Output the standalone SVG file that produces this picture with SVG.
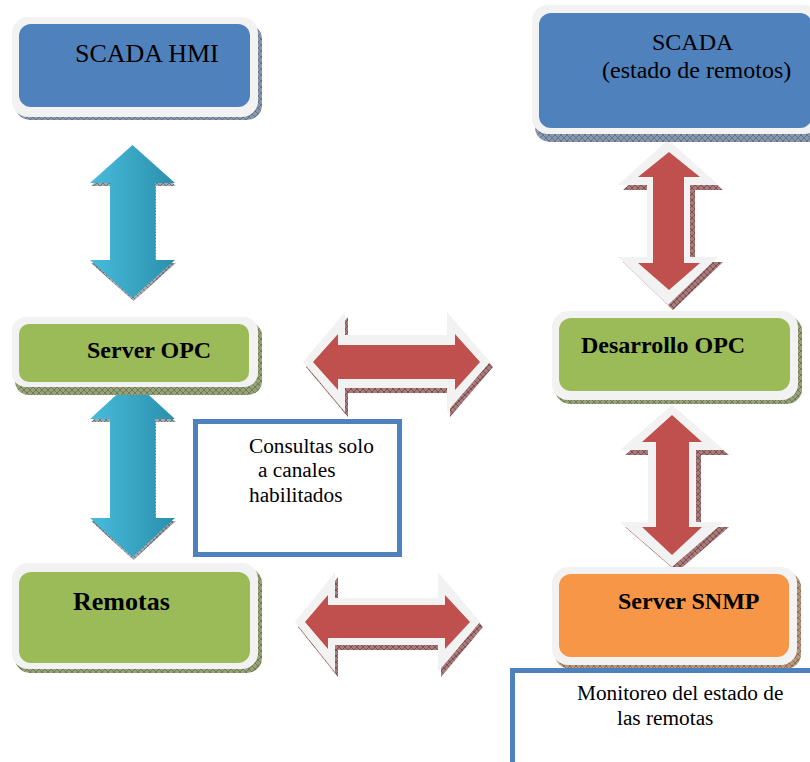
<svg xmlns="http://www.w3.org/2000/svg" width="810" height="762" viewBox="0 0 810 762">
<style>
.frame{fill:#f2f2f2}
.blue{fill:#4f81bd}
.green{fill:#9bbb59}
.orange{fill:#f79646}
.lbl{font-family:"Liberation Serif","Times New Roman",serif;fill:#000}
.b{font-weight:bold;font-size:24px}
.note{font-size:21.3px}
.nbox{fill:#fff;stroke:#4f81bd;stroke-width:5}
.rg{fill:#f2f2f2}
.rd{fill:#c0504d}
.ba{fill:url(#bgrad)}
</style>
<defs>
<pattern id="hb" width="6" height="6" patternUnits="userSpaceOnUse"><rect width="6" height="6" fill="#8a98ae"/><path d="M0 0L6 6M6 0L0 6" stroke="#56637c" stroke-width="0.7"/></pattern>
<pattern id="hg" width="6" height="6" patternUnits="userSpaceOnUse"><rect width="6" height="6" fill="#98a27a"/><path d="M0 0L6 6M6 0L0 6" stroke="#5e6a44" stroke-width="0.7"/></pattern>
<pattern id="ho" width="6" height="6" patternUnits="userSpaceOnUse"><rect width="6" height="6" fill="#b8987c"/><path d="M0 0L6 6M6 0L0 6" stroke="#7e5e44" stroke-width="0.7"/></pattern>
<pattern id="hr" width="6" height="6" patternUnits="userSpaceOnUse"><rect width="6" height="6" fill="#a87c7c"/><path d="M0 0L6 6M6 0L0 6" stroke="#6e3e3e" stroke-width="0.7"/></pattern>
<pattern id="hk" width="6" height="6" patternUnits="userSpaceOnUse"><rect width="6" height="6" fill="#a4a8ac"/><path d="M0 0L6 6M6 0L0 6" stroke="#5a5e62" stroke-width="0.7"/></pattern>
<linearGradient id="bgrad" x1="0" y1="0" x2="1" y2="0"><stop offset="0" stop-color="#48bcdc"/><stop offset="1" stop-color="#2a8fac"/></linearGradient>
</defs>

<g id="connectors">
  <g id="arrow-hmi-opc">
    <polygon fill="url(#hk)" transform="translate(1,3)" points="132.5,145 175,183 155,183 155,260 175,260 132.5,298 90,260 110,260 110,183 90,183"/>
    <polygon class="ba" points="132.5,145 175,183 155,183 155,260 175,260 132.5,298 90,260 110,260 110,183 90,183"/>
  </g>
  <g id="arrow-opc-remotas">
    <polygon fill="url(#hk)" transform="translate(1,3)" points="132.5,380 175,419 155,419 155,518 175,518 132.5,557 90,518 110,518 110,419 90,419"/>
    <polygon class="ba" points="132.5,380 175,419 155,419 155,518 175,518 132.5,557 90,518 110,518 110,419 90,419"/>
  </g>
  <g id="arrow-scada-desarrollo">
    <polygon fill="url(#hr)" transform="translate(5,5)" points="668,140 718,185 690,185 690,257 718,257 668,305 618,257 647,257 647,185 618,185"/>
    <polygon class="rg" points="668,140 718,185 690,185 690,257 718,257 668,305 618,257 647,257 647,185 618,185"/>
    <polygon class="rd" points="669,152 700,177 684,177 684,263 700,263 669,290 638,263 653,263 653,177 638,177"/>
  </g>
  <g id="arrow-desarrollo-snmp">
    <polygon fill="url(#hr)" transform="translate(5,5)" points="672,405 724,450 696,450 696,522 724,522 672,567 620,522 648,522 648,450 620,450"/>
    <polygon class="rg" points="672,405 724,450 696,450 696,522 724,522 672,567 620,522 648,522 648,450 620,450"/>
    <polygon class="rd" points="672,415 702,442 689,442 689,527 702,527 672,555 642,527 656,527 656,442 642,442"/>
  </g>
  <g id="arrow-opc-desarrollo">
    <polygon fill="url(#hr)" transform="translate(3,5)" points="303,362 345,312 345,335 447,335 447,312 490,362 447,412 447,388 345,388 345,412"/>
    <polygon class="rg" points="303,362 345,312 345,335 447,335 447,312 490,362 447,412 447,388 345,388 345,412"/>
    <polygon class="rd" points="313,362 338,334 338,345 455,345 455,334 480,362 455,390 455,379 338,379 338,390"/>
  </g>
  <g id="arrow-remotas-snmp">
    <polygon fill="url(#hr)" transform="translate(3,5)" points="295,622 335,572 335,598 438,598 438,572 480,622 438,672 438,645 335,645 335,672"/>
    <polygon class="rg" points="295,622 335,572 335,598 438,598 438,572 480,622 438,672 438,645 335,645 335,672"/>
    <polygon class="rd" points="305,622 328,595 328,605 445,605 445,595 470,622 445,649 445,638 328,638 328,649"/>
  </g>
</g>

<g id="node-scada-hmi">
  <rect x="15" y="24" width="247" height="96" rx="15" fill="url(#hb)"/>
  <rect class="frame" x="12" y="17" width="246" height="100" rx="16"/>
  <rect class="blue" x="19" y="24" width="231" height="83" rx="12"/>
  <text class="lbl" x="75" y="62" font-size="26">SCADA HMI</text>
</g>

<g id="node-scada-remotos">
  <rect x="535" y="15" width="288" height="127" rx="15" fill="url(#hb)"/>
  <rect class="frame" x="532" y="5" width="288" height="129" rx="16"/>
  <rect class="blue" x="539" y="13" width="273" height="115" rx="12"/>
  <text class="lbl" x="652" y="50" font-size="24">SCADA</text>
  <text class="lbl" x="602" y="78" font-size="24">(estado de remotos)</text>
</g>

<g id="node-server-opc">
  <rect x="15" y="322" width="247" height="73" rx="14" fill="url(#hg)"/>
  <rect class="frame" x="12" y="317" width="246" height="70" rx="14"/>
  <rect class="green" x="19" y="324" width="230" height="58" rx="10"/>
  <text class="lbl b" x="87" y="358">Server OPC</text>
</g>

<g id="node-desarrollo-opc">
  <rect x="555" y="316" width="247" height="88" rx="15" fill="url(#hg)"/>
  <rect class="frame" x="552" y="311" width="246" height="89" rx="16"/>
  <rect class="green" x="559" y="318" width="231" height="73" rx="12"/>
  <text class="lbl b" x="581" y="353">Desarrollo OPC</text>
</g>

<g id="node-remotas">
  <rect x="15" y="568" width="247" height="105" rx="15" fill="url(#hg)"/>
  <rect class="frame" x="12" y="563" width="246" height="106" rx="16"/>
  <rect class="green" x="19" y="572" width="231" height="91" rx="12"/>
  <text class="lbl" x="73" y="610" font-size="26" font-weight="bold">Remotas</text>
</g>

<g id="node-server-snmp">
  <rect x="555" y="572" width="246" height="97" rx="15" fill="url(#ho)"/>
  <rect class="frame" x="552" y="567" width="245" height="98" rx="16"/>
  <rect class="orange" x="559" y="574" width="230" height="83" rx="12"/>
  <text class="lbl b" x="618" y="609">Server SNMP</text>
</g>

<g id="note-consultas">
  <rect class="nbox" x="195.5" y="421.5" width="204" height="133"/>
  <text class="lbl note" x="249" y="453">Consultas solo</text>
  <text class="lbl note" x="258" y="477">a canales</text>
  <text class="lbl note" x="249" y="502">habilitados</text>
</g>

<g id="note-monitoreo">
  <rect class="nbox" x="512.5" y="670.5" width="320" height="120"/>
  <text class="lbl note" x="577" y="700">Monitoreo del estado de</text>
  <text class="lbl note" x="617" y="725">las remotas</text>
</g>
</svg>
